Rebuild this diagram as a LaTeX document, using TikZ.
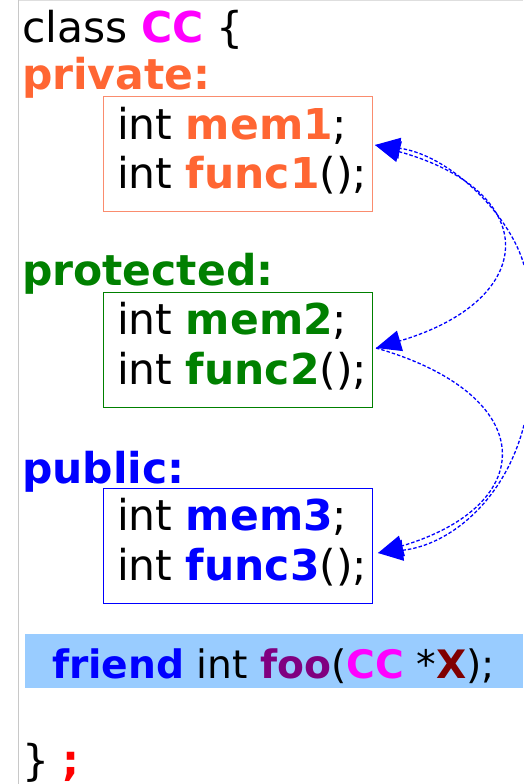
\documentclass[tikz,border=0pt]{standalone}
\usepackage{fontspec}
\setmainfont{DejaVu Sans}
\usetikzlibrary{arrows.meta}
\definecolor{privc}{RGB}{255,102,51}
\definecolor{privbox}{RGB}{250,140,110}
\definecolor{protc}{RGB}{0,128,0}
\definecolor{pubc}{RGB}{0,0,255}
\definecolor{ccc}{RGB}{255,0,255}
\definecolor{fooc}{RGB}{128,0,128}
\definecolor{xc}{RGB}{128,0,0}
\definecolor{barc}{RGB}{153,204,255}
\definecolor{framec}{RGB}{200,200,200}
\begin{document}
\begin{tikzpicture}[x=1pt,y=-1pt,
  txt/.style={anchor=base west,inner sep=0pt,outer sep=0pt,font=\fontsize{42.5}{50}\selectfont},
  smalltxt/.style={txt,font=\fontsize{39.2}{46}\selectfont},
  membox/.style={draw,line width=0.9pt,minimum width=269pt,minimum height=115pt,inner sep=0pt,anchor=north west},
  link/.style={pubc,line width=1.3pt,dash pattern=on 3.5pt off 2pt},
  tip/.style={-{Triangle[length=25pt,width=21pt]}},
  tips/.style={{Triangle[length=25pt,width=21pt]}-{Triangle[length=25pt,width=21pt]}}
]
\useasboundingbox (0,0) rectangle (523,784);
\draw[framec,line width=1pt] (18.5,0) -- (18.5,784);
\draw[framec!60,line width=0.8pt] (18.5,0.5) -- (523,0.5);

\node[txt] (cls) at (22,43) {class \textcolor{ccc}{\textbf{CC}} \{};
\node[txt,privc] (lpriv) at (22,89) {\textbf{private:}};
\node[membox,privbox] (priv) at (103,96) {};
\node[txt] (m1) at (117,139.3) {int \textcolor{privc}{\textbf{mem1}};};
\node[txt] (f1) at (117,188.3) {int \textcolor{privc}{\textbf{func1}}();};

\node[txt,protc] (lprot) at (22,285) {\textbf{protected:}};
\node[membox,protc] (prot) at (103,292.3) {};
\node[txt] (m2) at (117,334) {int \textcolor{protc}{\textbf{mem2}};};
\node[txt] (f2) at (117,384) {int \textcolor{protc}{\textbf{func2}}();};

\node[txt,pubc] (lpub) at (22,483.3) {\textbf{public:}};
\node[membox,pubc] (pub) at (103,488.3) {};
\node[txt] (m3) at (117,530.7) {int \textcolor{pubc}{\textbf{mem3}};};
\node[txt] (f3) at (117,580) {int \textcolor{pubc}{\textbf{func3}}();};

\node[fill=barc,minimum width=498pt,minimum height=54pt,inner sep=0pt,anchor=north west] (bar) at (25,634) {};
\node[smalltxt] (fr) at (52,678) {\textcolor{pubc}{\textbf{friend}} int \textcolor{fooc}{\textbf{foo}}(\textcolor{ccc}{\textbf{CC}} *\textcolor{xc}{\textbf{X}});};

\node[txt] (end) at (22,775) {\} \textcolor{red}{\textbf{;}}};

\coordinate (t1) at (375,145);
\coordinate (t2) at (376,348);
\coordinate (t3) at (378,553);
\coordinate (e1) at (524,265);
\coordinate (e2) at (524,425);

\draw[link,tips] (t1) .. controls (541,191) and (541,299) .. (t2);
\draw[link,tip] (t2) .. controls (540,395) and (540,505) .. (t3);
\draw[link,tip] (e1) .. controls (510,215) and (450,155) .. (t1);
\draw[link,tip] (e2) .. controls (505,500) and (450,545) .. (t3);
\end{tikzpicture}
\end{document}
